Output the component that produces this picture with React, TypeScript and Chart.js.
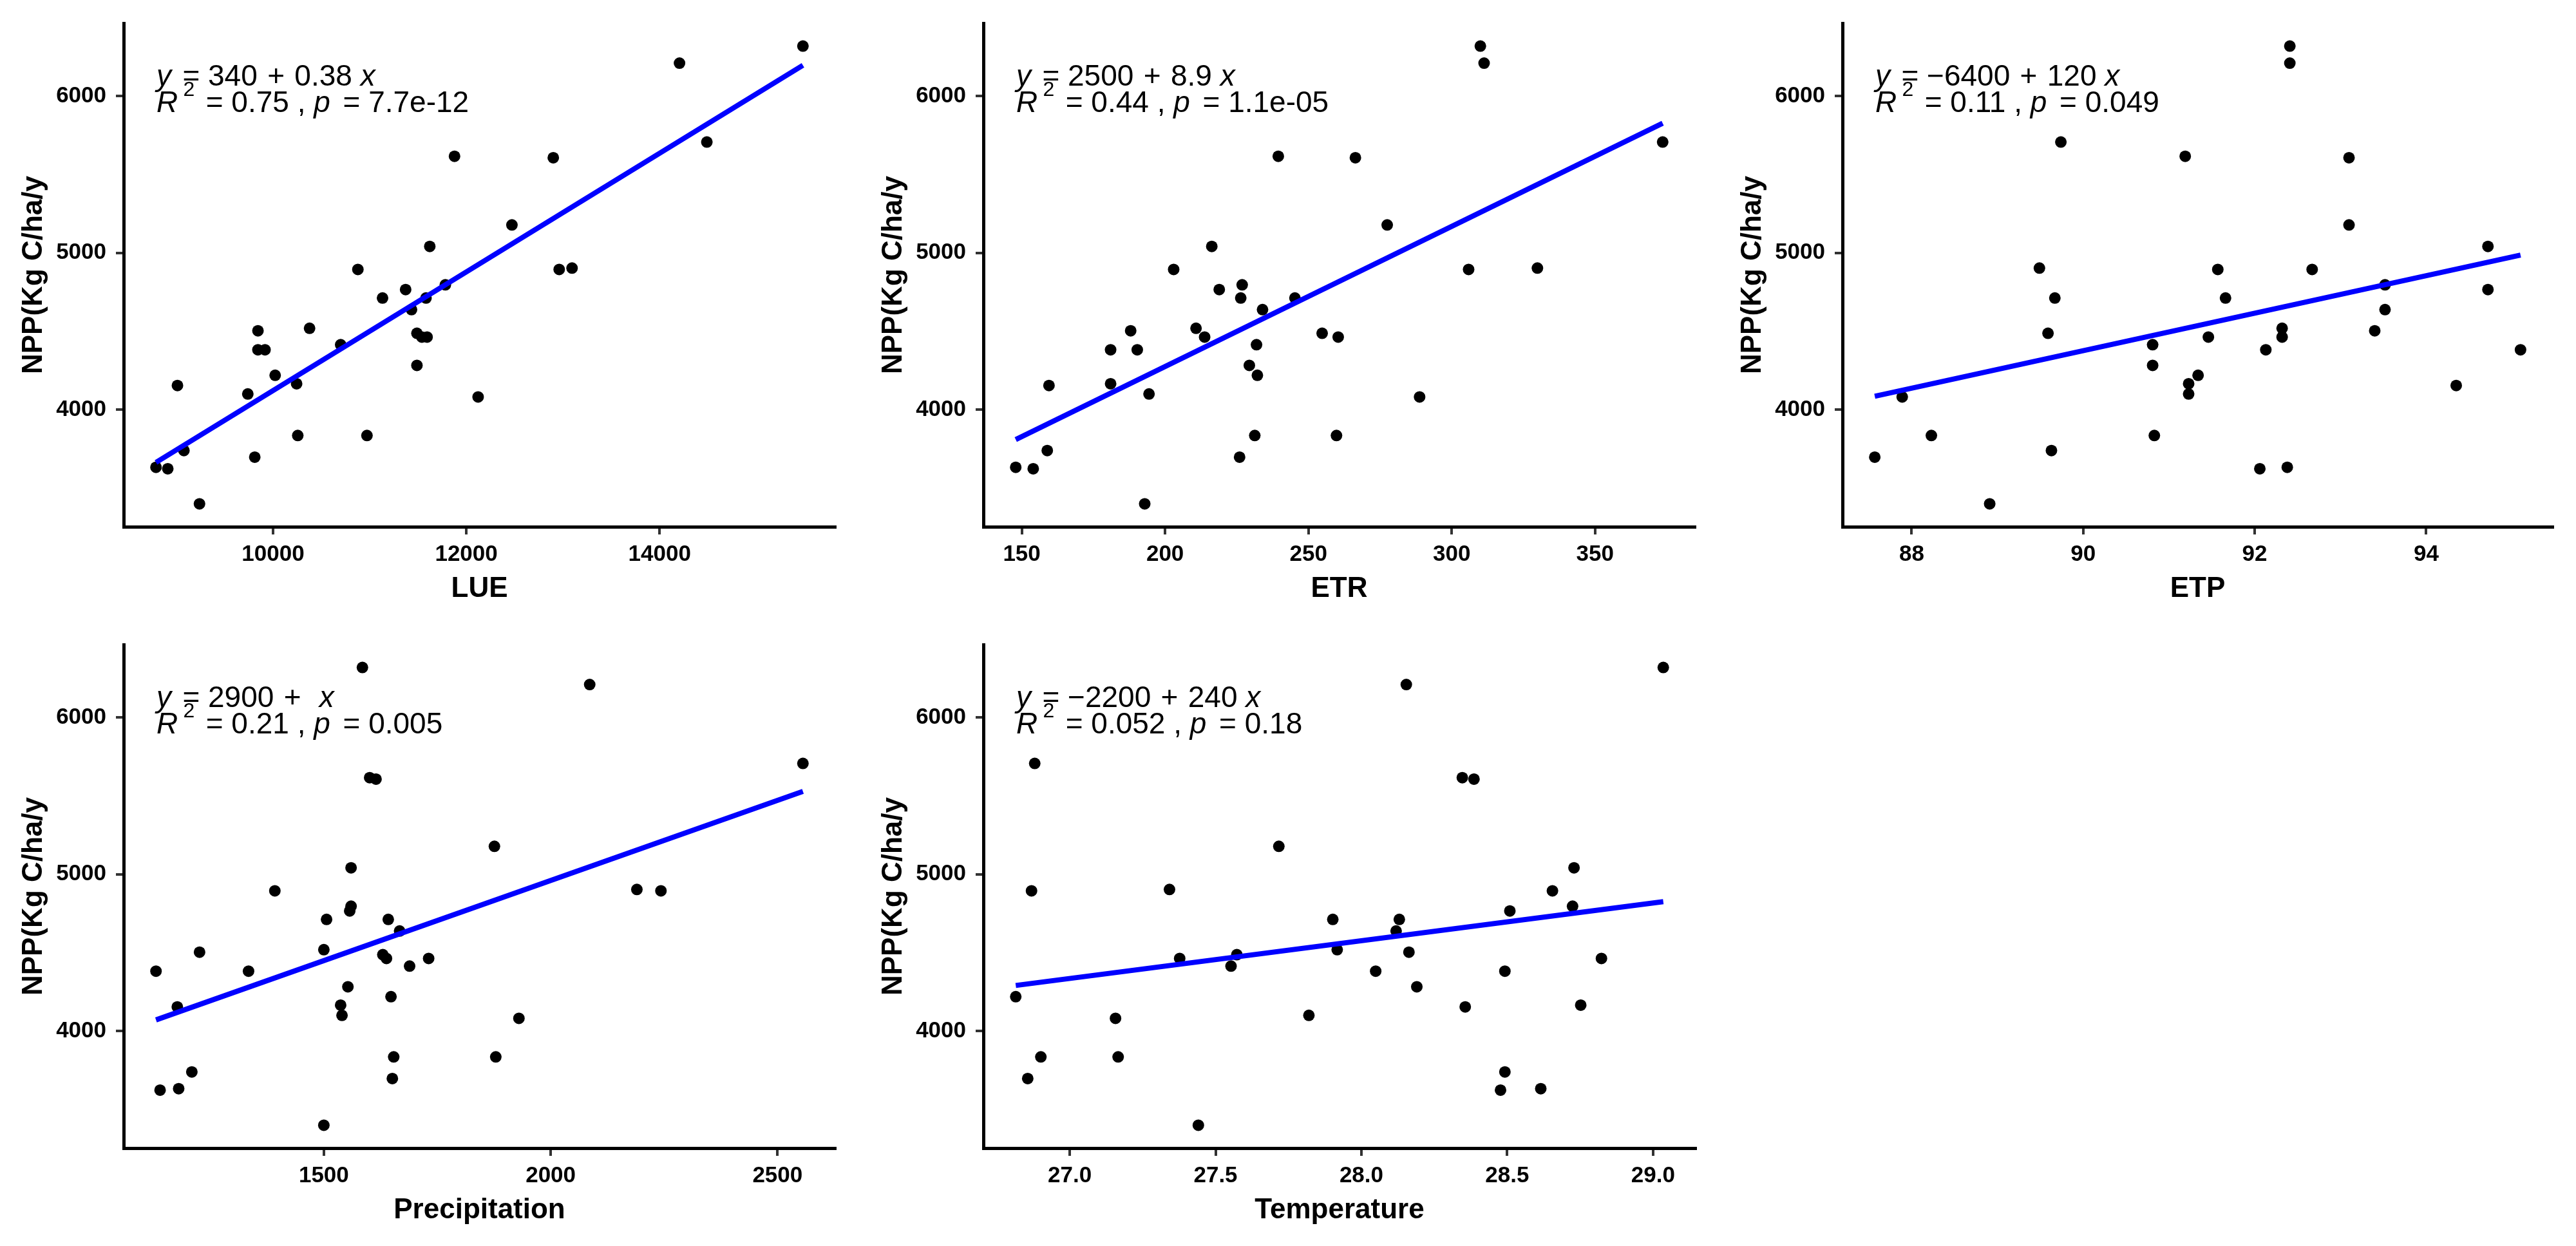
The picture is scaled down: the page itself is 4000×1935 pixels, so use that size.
import React, { useEffect, useRef } from 'react';
import { Chart, registerables } from 'chart.js';

Chart.register(...registerables);

const FONT = "'Liberation Sans', Arimo, Arial, sans-serif";

// NPP values (shared y for all panels)
const npp = [6319, 6210, 5707, 5616, 5607, 5178, 5041, 4903, 4894, 4894, 4796, 4766, 4712, 4712, 4638, 4519, 4503, 4487, 4463, 4463, 4414, 4382, 4382, 4282, 4219, 4165, 4154, 4100, 4081, 3835, 3835, 3739, 3697, 3632, 3623, 3399];

const lue = [15483, 14206, 14489, 11878, 12900, 12472, 11622, 13094, 10878, 12961, 11783, 11372, 11133, 11583, 11433, 10378, 9844, 11489, 11594, 11540, 10700, 9844, 9917, 11489, 10022, 10244, 9011, 9739, 12122, 10256, 10972, 9078, 9811, 8789, 8911, 9239];

const etr = [310.0, 311.3, 373.6, 239.5, 266.4, 277.5, 216.3, 329.9, 203.0, 305.9, 226.9, 218.9, 226.4, 245.3, 234.0, 210.8, 188.0, 254.8, 213.8, 260.4, 231.9, 181.0, 190.3, 229.4, 232.2, 181.0, 159.5, 194.4, 288.8, 231.3, 259.8, 158.9, 226.0, 147.9, 154.0, 192.9];

const etp = [92.41, 92.41, 89.74, 91.19, 93.10, 93.10, 94.72, 89.49, 91.57, 92.67, 93.52, 94.72, 89.67, 91.66, 93.52, 92.32, 93.40, 89.59, 91.46, 92.32, 90.81, 92.13, 95.10, 90.81, 91.34, 91.23, 94.35, 91.23, 87.89, 88.23, 90.83, 89.63, 87.57, 92.38, 92.06, 88.91];

const precipitation = [1585, 2086, 2556, 1601, 1615, 1876, 1560, 2190, 1392, 2243, 1560, 1557, 1506, 1642, 1667, 1500, 1226, 1630, 1638, 1731, 1689, 1130, 1334, 1553, 1648, 1537, 1177, 1540, 1930, 1654, 1879, 1209, 1651, 1180, 1139, 1500];

const temperature = [29.035, 28.154, 26.880, 28.346, 28.386, 27.717, 28.729, 27.342, 26.869, 28.655, 28.724, 28.509, 27.902, 28.130, 28.119, 27.917, 28.163, 27.573, 27.377, 28.823, 27.553, 28.049, 28.492, 28.190, 26.815, 28.752, 28.356, 27.820, 27.157, 26.901, 27.166, 28.492, 26.856, 28.615, 28.477, 27.441];

const xSeries = [lue, etr, etp, precipitation, temperature];
const xTitles = ['LUE', 'ETR', 'ETP', 'Precipitation', 'Temperature'];
const yTitle = 'NPP(Kg C/ha/y';

const xTickValues = [
  [10000, 12000, 14000],
  [150, 200, 250, 300, 350],
  [88, 90, 92, 94],
  [1500, 2000, 2500],
  [27, 27.5, 28, 28.5, 29],
];
const xTickDecimals = [0, 0, 0, 0, 1];
const yTickValues = [4000, 5000, 6000];

const eqIntercepts = ['340', '2500', '\u22126400', '2900', '\u22122200'];
const eqSlopes = ['0.38', '8.9', '120', '', '240'];
const r2Labels = ['0.75', '0.44', '0.11', '0.21', '0.052'];
const pLabels = ['7.7e-12', '1.1e-05', '0.049', '0.005', '0.18'];

const CANVAS_H = 941;
const Y_AXIS_W = 166;
const panelLayout = [
  { left: 0, top: 0, width: 1306, axisX: 192 },
  { left: 1320, top: 0, width: 1321, axisX: 1527 },
  { left: 2660, top: 0, width: 1313, axisX: 2861 },
  { left: 0, top: 965, width: 1306, axisX: 192 },
  { left: 1320, top: 965, width: 1322, axisX: 1527 },
];

function linearFit(xs: number[], ys: number[]) {
  const n = xs.length;
  const mx = xs.reduce((a, b) => a + b, 0) / n;
  const my = ys.reduce((a, b) => a + b, 0) / n;
  let sxy = 0, sxx = 0;
  for (let i = 0; i < n; i++) {
    sxy += (xs[i] - mx) * (ys[i] - my);
    sxx += (xs[i] - mx) * (xs[i] - mx);
  }
  const b = sxy / sxx;
  return { a: my - b * mx, b };
}

function makeEqPlugin(index: number) {
  return {
    id: 'eqText' + index,
    afterDatasetsDraw(chart: any) {
      const { ctx, chartArea } = chart;
      const fs = 46;
      const sp = fs * 0.278;
      const reg = `${fs}px ${FONT}`;
      const ital = `italic ${fs}px ${FONT}`;
      const sup = `${Math.round(fs * 0.7)}px ${FONT}`;
      ctx.save();
      ctx.fillStyle = '#000';
      ctx.textAlign = 'left';
      ctx.textBaseline = 'alphabetic';
      let x = chartArea.left + 51;
      let y = chartArea.top + 97;
      const draw = (t: string, font: string, dy = 0) => {
        ctx.font = font;
        ctx.fillText(t, x, y - dy);
        x += ctx.measureText(t).width;
      };
      // line 1
      draw('y', ital); x += fs * 0.1 + sp;
      draw('=', reg); x += sp;
      draw(eqIntercepts[index], reg); x += sp * 1.2;
      draw('+', reg); x += sp * 1.2;
      if (eqSlopes[index]) draw(eqSlopes[index], reg);
      x += sp;
      draw('x', ital);
      // line 2
      x = chartArea.left + 51;
      y = chartArea.top + 138;
      draw('R', ital); x += fs * 0.18;
      draw('2', sup, fs * 0.54); x += fs * 0.1 + sp;
      draw('=', reg); x += sp;
      draw(r2Labels[index], reg); x += sp;
      draw(',', reg); x += sp;
      draw('p', ital); x += fs * 0.15 + sp;
      draw('=', reg); x += sp;
      draw(pLabels[index], reg);
      ctx.restore();
    },
  };
}

function Panel({ index }: { index: number }) {
  const ref = useRef<HTMLCanvasElement>(null);
  const g = panelLayout[index];

  useEffect(() => {
    if (!ref.current) return;
    const xs = xSeries[index];
    const points = xs.map((x, i) => ({ x, y: npp[i] }));
    const fit = linearFit(xs, npp);
    const xmin = Math.min(...xs);
    const xmax = Math.max(...xs);
    const xr = xmax - xmin;
    const ymin = Math.min(...npp);
    const ymax = Math.max(...npp);
    const yr = ymax - ymin;
    const fitLine = [
      { x: xmin, y: fit.a + fit.b * xmin },
      { x: xmax, y: fit.a + fit.b * xmax },
    ];
    const tickFont = { family: FONT, size: 35, weight: 'bold' as const };
    const titleFont = { family: FONT, size: 44, weight: 'bold' as const };
    const padLeft = g.axisX - g.left - Y_AXIS_W;

    const chart = new Chart(ref.current, {
      type: 'scatter',
      data: {
        datasets: [
          {
            type: 'line',
            data: fitLine,
            borderColor: '#0000FF',
            borderWidth: 8,
            pointRadius: 0,
            fill: false,
            tension: 0,
          } as any,
          {
            type: 'scatter',
            data: points,
            backgroundColor: '#000000',
            borderWidth: 0,
            pointRadius: 9,
          } as any,
        ],
      },
      plugins: [makeEqPlugin(index)],
      options: {
        responsive: false,
        devicePixelRatio: 1,
        animation: false,
        layout: { padding: { left: padLeft, top: 26, right: 0, bottom: 0 } },
        plugins: { legend: { display: false }, tooltip: { enabled: false } },
        scales: {
          x: {
            type: 'linear',
            position: 'bottom',
            min: xmin - 0.05 * xr,
            max: xmax + 0.05 * xr,
            afterBuildTicks: (s: any) => {
              s.ticks = xTickValues[index].map((v) => ({ value: v }));
            },
            afterFit: (s: any) => {
              s.height = CANVAS_H - 26 - 792;
            },
            ticks: {
              autoSkip: false,
              maxRotation: 0,
              minRotation: 0,
              padding: 10,
              color: '#000',
              font: tickFont,
              callback: (v: any) => Number(v).toFixed(xTickDecimals[index]),
            },
            grid: {
              drawOnChartArea: false,
              drawTicks: true,
              tickLength: 12,
              color: '#333333',
              lineWidth: 4,
            },
            border: { display: true, color: '#000', width: 5 },
            title: { display: true, text: xTitles[index], color: '#000', font: titleFont, padding: 0 },
          },
          y: {
            type: 'linear',
            position: 'left',
            min: ymin - 0.05 * yr,
            max: ymax + 0.05 * yr,
            afterBuildTicks: (s: any) => {
              s.ticks = yTickValues.map((v) => ({ value: v }));
            },
            afterFit: (s: any) => {
              s.width = Y_AXIS_W;
            },
            ticks: {
              autoSkip: false,
              padding: 15,
              color: '#000',
              font: tickFont,
              callback: (v: any) => String(v),
            },
            grid: {
              drawOnChartArea: false,
              drawTicks: true,
              tickLength: 12,
              color: '#333333',
              lineWidth: 4,
            },
            border: { display: true, color: '#000', width: 5 },
            title: { display: true, text: yTitle, color: '#000', font: titleFont, padding: 0 },
          },
        },
      } as any,
    });
    return () => chart.destroy();
  }, [index]);

  return (
    <canvas
      ref={ref}
      width={g.width}
      height={CANVAS_H}
      style={{ position: 'absolute', left: g.left, top: g.top, width: g.width, height: CANVAS_H }}
    />
  );
}

export default function App() {
  return (
    <div
      style={{
        position: 'absolute',
        left: 0,
        top: 0,
        width: 4000,
        height: 1935,
        background: '#ffffff',
        overflow: 'hidden',
      }}
    >
      {[0, 1, 2, 3, 4].map((i) => (
        <Panel key={i} index={i} />
      ))}
    </div>
  );
}
